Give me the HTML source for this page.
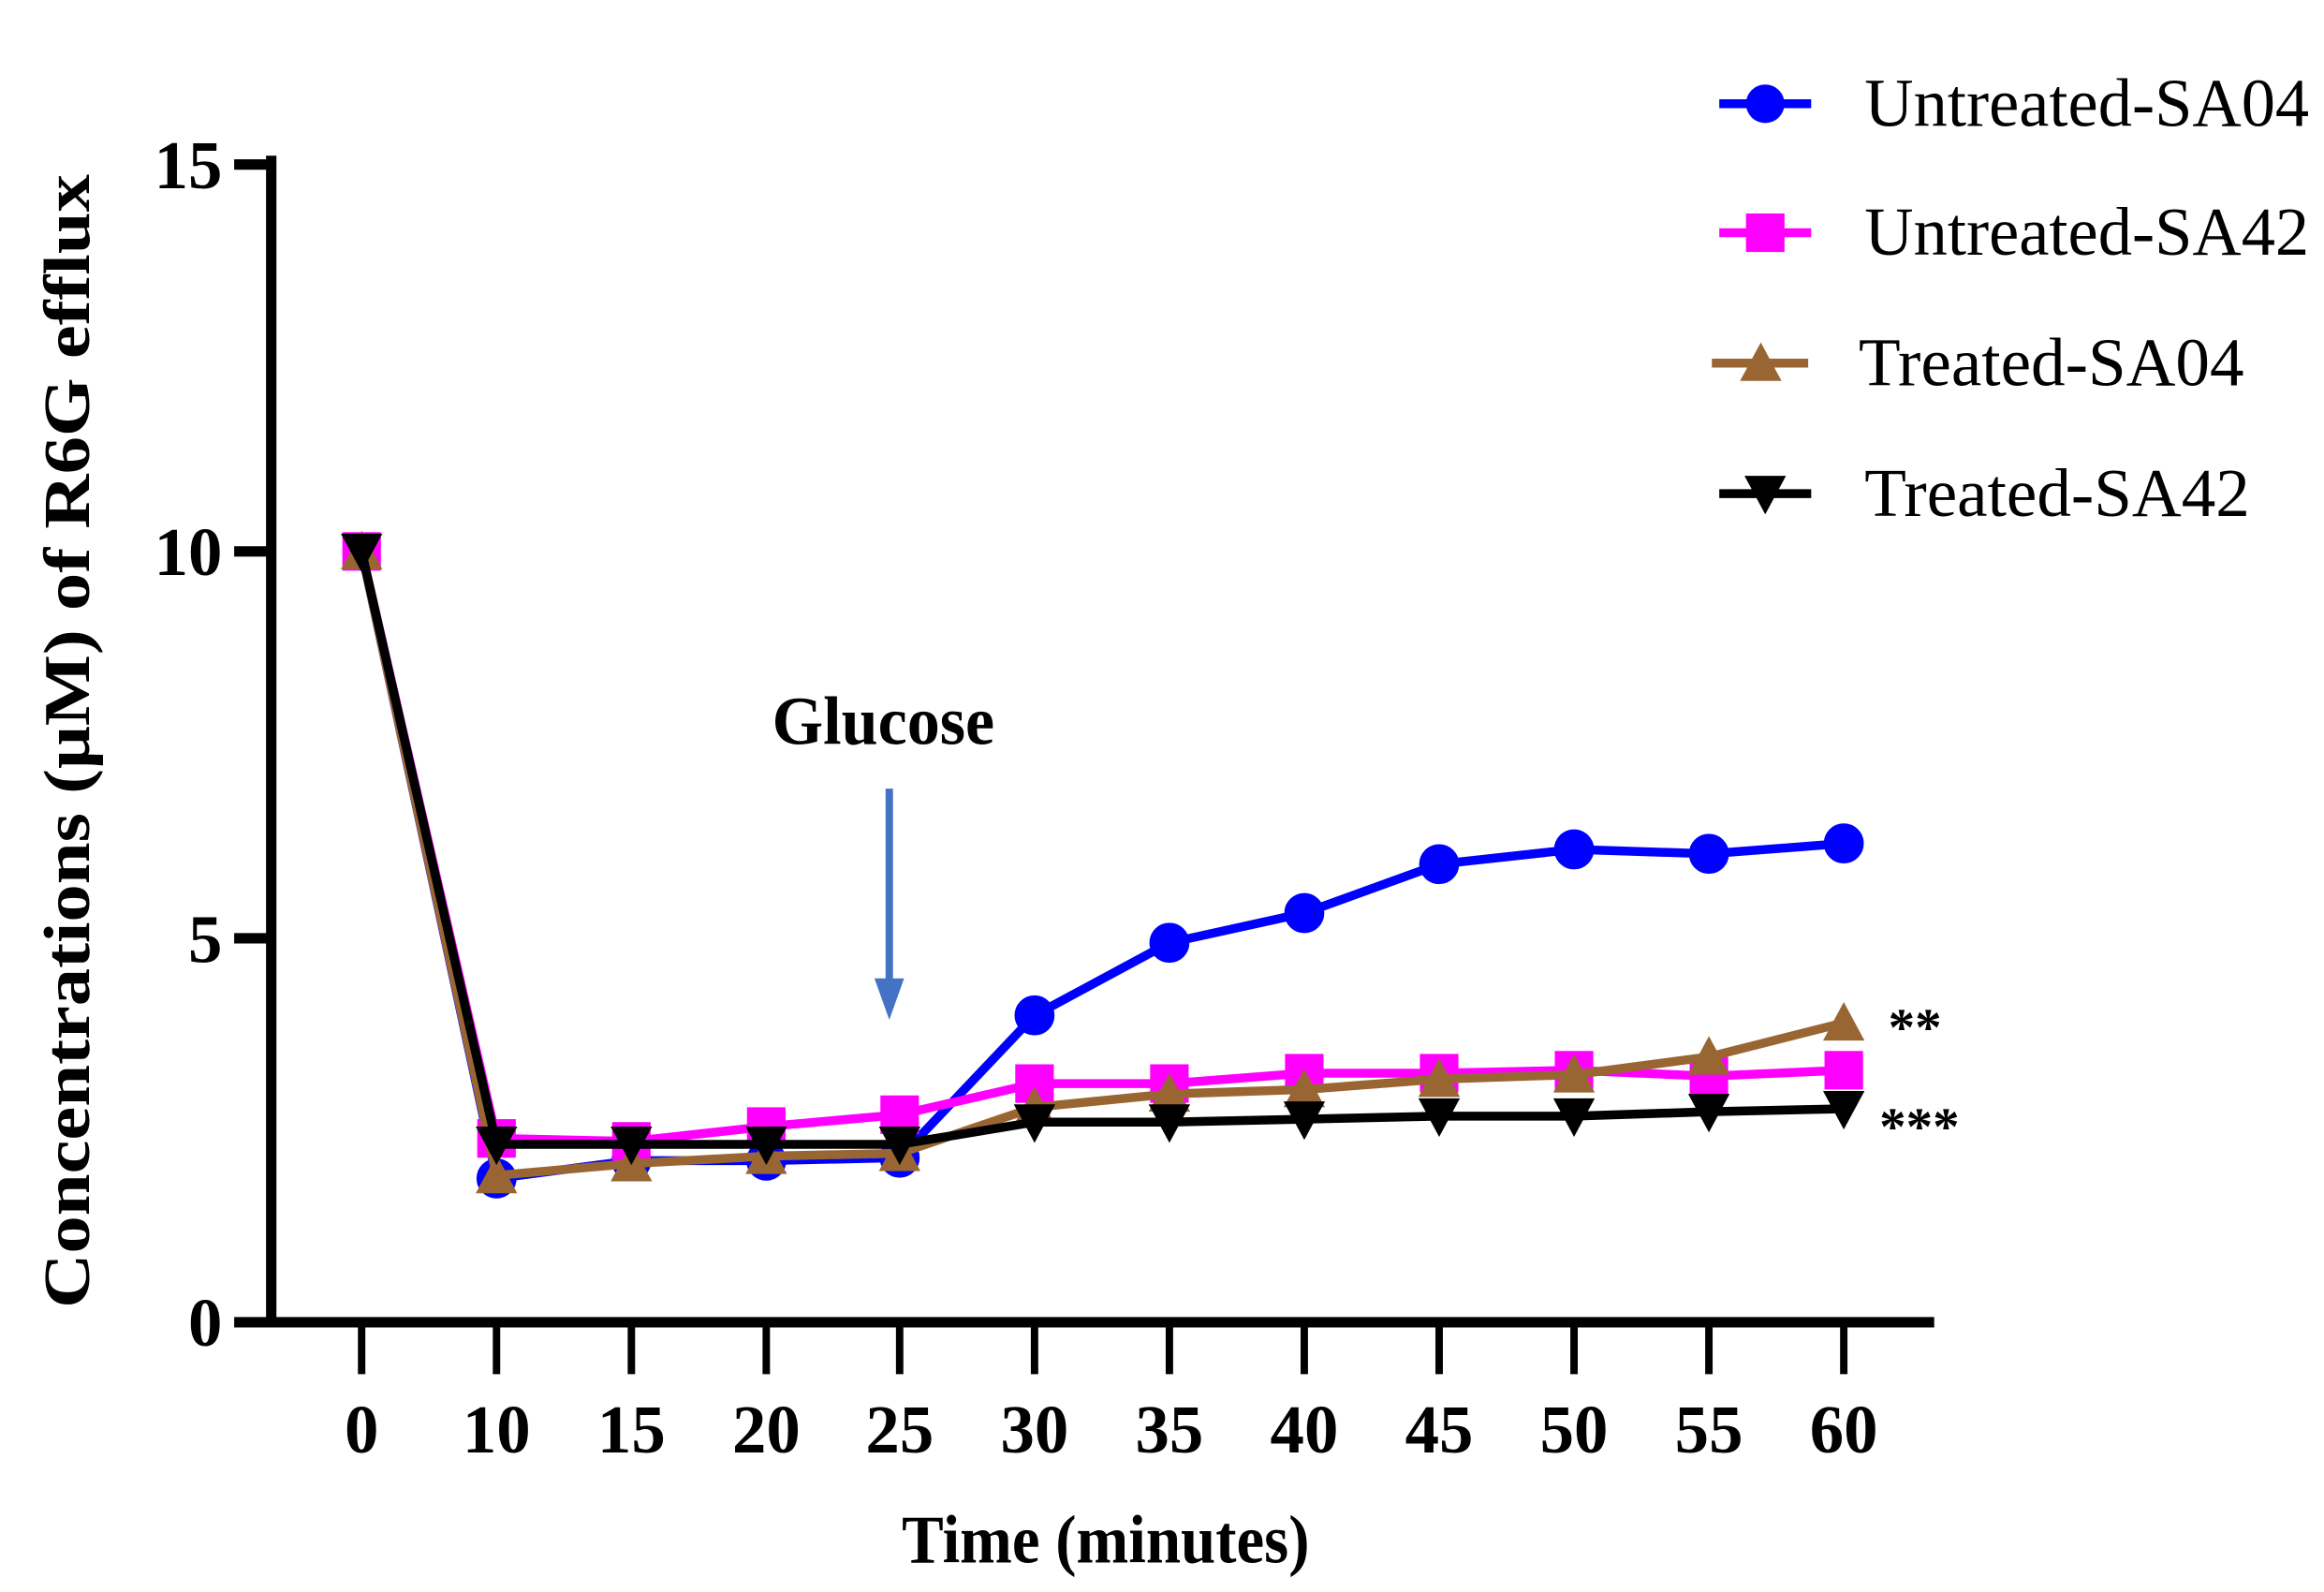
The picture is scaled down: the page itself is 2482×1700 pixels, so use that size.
<!DOCTYPE html>
<html><head><style>html,body{margin:0;padding:0;background:#fff;}svg{display:block;}</style></head><body>
<svg width="2482" height="1700" viewBox="0 0 1568 1074" preserveAspectRatio="none" xmlns="http://www.w3.org/2000/svg" font-family="Liberation Serif, serif">
<rect width="1568" height="1074" fill="#fff"/>
<g stroke="#000" stroke-width="7" fill="none">
<line x1="183" y1="105" x2="183" y2="895"/>
<line x1="180" y1="892" x2="1305" y2="892"/>
<line x1="158" y1="111" x2="183" y2="111"/>
<line x1="158" y1="372" x2="183" y2="372"/>
<line x1="158" y1="633" x2="183" y2="633"/>
<line x1="158" y1="892" x2="183" y2="892"/>
</g>
<g stroke="#000" stroke-width="5">
<line x1="244" y1="892" x2="244" y2="927"/><line x1="335" y1="892" x2="335" y2="927"/><line x1="426" y1="892" x2="426" y2="927"/><line x1="517" y1="892" x2="517" y2="927"/><line x1="607" y1="892" x2="607" y2="927"/><line x1="698" y1="892" x2="698" y2="927"/><line x1="789" y1="892" x2="789" y2="927"/><line x1="880" y1="892" x2="880" y2="927"/><line x1="971" y1="892" x2="971" y2="927"/><line x1="1062" y1="892" x2="1062" y2="927"/><line x1="1153" y1="892" x2="1153" y2="927"/><line x1="1244" y1="892" x2="1244" y2="927"/>
</g>
<g font-size="46" font-weight="bold" text-anchor="end">
<text x="150" y="127">15</text><text x="150" y="388">10</text><text x="150" y="649">5</text><text x="150" y="908">0</text>
</g>
<g font-size="46" font-weight="bold" text-anchor="middle">
<text x="244" y="980">0</text><text x="335" y="980">10</text><text x="426" y="980">15</text><text x="517" y="980">20</text><text x="607" y="980">25</text><text x="698" y="980">30</text><text x="789" y="980">35</text><text x="880" y="980">40</text><text x="971" y="980">45</text><text x="1062" y="980">50</text><text x="1153" y="980">55</text><text x="1244" y="980">60</text>
</g>
<text x="746" y="1054" font-size="46" font-weight="bold" text-anchor="middle" textLength="275" lengthAdjust="spacingAndGlyphs">Time (minutes)</text>
<text transform="translate(60,500) rotate(-90)" font-size="44" font-weight="bold" text-anchor="middle" textLength="765" lengthAdjust="spacingAndGlyphs">Concentrations (μM) of R6G efflux</text>
<text x="596" y="502" font-size="46" font-weight="bold" text-anchor="middle" textLength="150" lengthAdjust="spacingAndGlyphs">Glucose</text>
<line x1="600" y1="532" x2="600" y2="665" stroke="#4472c4" stroke-width="5"/>
<polygon points="590,660 610,660 600,688" fill="#4472c4"/>
<text x="1292" y="705" font-size="36" font-weight="bold" text-anchor="middle">**</text>
<text x="1295" y="772" font-size="36" font-weight="bold" text-anchor="middle">***</text>
<g fill="#0000ff" stroke="#0000ff">
<polyline fill="none" stroke-width="6" points="244,372 335,795 426,783 517,783 607,781 698,685 789,636 880,616 971,583 1062,573 1153,576 1244,569"/>
<circle cx="335" cy="795" r="13"/><circle cx="426" cy="783" r="13"/><circle cx="517" cy="783" r="13"/><circle cx="607" cy="781" r="13"/><circle cx="698" cy="685" r="13"/><circle cx="789" cy="636" r="13"/><circle cx="880" cy="616" r="13"/><circle cx="971" cy="583" r="13"/><circle cx="1062" cy="573" r="13"/><circle cx="1153" cy="576" r="13"/><circle cx="1244" cy="569" r="13"/>
</g>
<g fill="#ff00ff">
<polyline fill="none" stroke="#ff00ff" stroke-width="6" points="244,372 335,768 426,770 517,760 607,752 698,731 789,731 880,724 971,724 1062,722 1153,726 1244,722"/>
<rect x="231" y="359" width="26" height="26"/><rect x="322" y="755" width="26" height="26"/><rect x="413" y="757" width="26" height="26"/><rect x="504" y="747" width="26" height="26"/><rect x="594" y="739" width="26" height="26"/><rect x="685" y="718" width="26" height="26"/><rect x="776" y="718" width="26" height="26"/><rect x="867" y="711" width="26" height="26"/><rect x="958" y="711" width="26" height="26"/><rect x="1049" y="709" width="26" height="26"/><rect x="1140" y="713" width="26" height="26"/><rect x="1231" y="709" width="26" height="26"/>
</g>
<g fill="#996633">
<polyline fill="none" stroke="#996633" stroke-width="6" points="244,372 335,793 426,785 517,780 607,778 698,747 789,738 880,735 971,728 1062,725 1153,713 1244,690"/>
<polygon points="244,358 258,384 230,384"/><polygon points="335,779 349,805 321,805"/><polygon points="426,771 440,797 412,797"/><polygon points="517,766 531,792 503,792"/><polygon points="607,764 621,790 593,790"/><polygon points="698,733 712,759 684,759"/><polygon points="789,724 803,750 775,750"/><polygon points="880,721 894,747 866,747"/><polygon points="971,714 985,740 957,740"/><polygon points="1062,711 1076,737 1048,737"/><polygon points="1153,699 1167,725 1139,725"/><polygon points="1244,676 1258,702 1230,702"/>
</g>
<g fill="#000">
<polyline fill="none" stroke="#000" stroke-width="6" points="244,372 335,772 426,772 517,772 607,772 698,757 789,757 880,755 971,753 1062,753 1153,750 1244,748"/>
<polygon points="230,360 258,360 244,386"/><polygon points="321,760 349,760 335,786"/><polygon points="412,760 440,760 426,786"/><polygon points="503,760 531,760 517,786"/><polygon points="593,760 621,760 607,786"/><polygon points="684,745 712,745 698,771"/><polygon points="775,745 803,745 789,771"/><polygon points="866,743 894,743 880,769"/><polygon points="957,741 985,741 971,767"/><polygon points="1048,741 1076,741 1062,767"/><polygon points="1139,738 1167,738 1153,764"/><polygon points="1230,736 1258,736 1244,762"/>
</g>
<line x1="1160" y1="70" x2="1222" y2="70" stroke="#0000ff" stroke-width="6"/><circle cx="1191" cy="70" r="13" fill="#0000ff"/>
<line x1="1160" y1="157" x2="1222" y2="157" stroke="#ff00ff" stroke-width="6"/><rect x="1178" y="144" width="26" height="26" fill="#ff00ff"/>
<line x1="1155" y1="245" x2="1220" y2="245" stroke="#996633" stroke-width="6"/><polygon points="1188,231 1202,257 1174,257" fill="#996633"/>
<line x1="1160" y1="333" x2="1222" y2="333" stroke="#000" stroke-width="6"/><polygon points="1177,321 1205,321 1191,347" fill="#000"/>
<g font-size="46">
<text x="1258" y="85" textLength="300" lengthAdjust="spacingAndGlyphs">Untreated-SA04</text>
<text x="1258" y="172" textLength="300" lengthAdjust="spacingAndGlyphs">Untreated-SA42</text>
<text x="1254" y="260" textLength="260" lengthAdjust="spacingAndGlyphs">Treated-SA04</text>
<text x="1258" y="348" textLength="260" lengthAdjust="spacingAndGlyphs">Treated-SA42</text>
</g>
</svg>
</body></html>
